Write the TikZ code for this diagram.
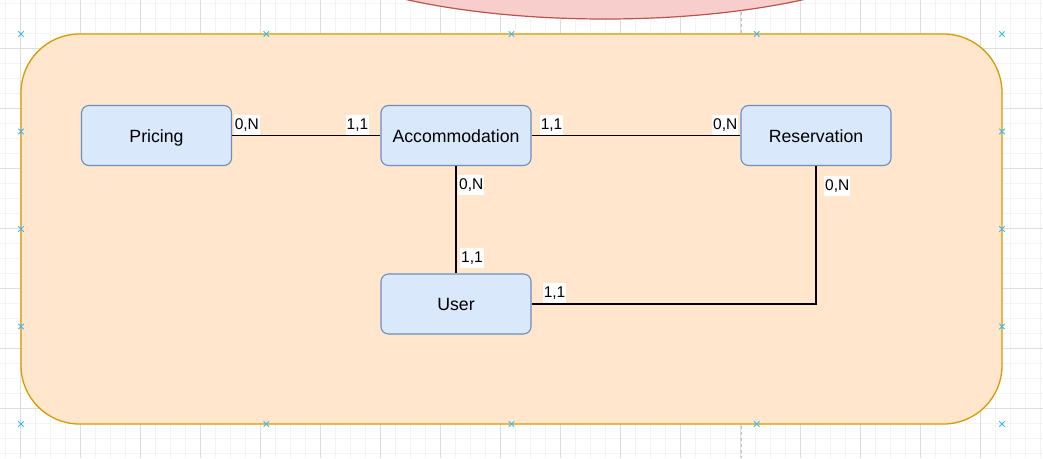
\documentclass[tikz,border=0pt]{standalone}
\usepackage{fontspec}
\setmainfont{Liberation Sans}
\usetikzlibrary{calc}
\definecolor{gridminor}{HTML}{F3F3F3}
\definecolor{gridmajor}{HTML}{DEDEDE}
\definecolor{frameFill}{HTML}{FFE6CC}
\definecolor{frameLine}{HTML}{D79B00}
\definecolor{entFill}{HTML}{DAE8FC}
\definecolor{entLine}{HTML}{6C8EBF}
\definecolor{ellFill}{HTML}{F8CECC}
\definecolor{ellLine}{HTML}{B85450}
\definecolor{handle}{HTML}{3DB5F0}
\definecolor{guide}{HTML}{BDBDBD}
\begin{document}
\begin{tikzpicture}[x=1pt,y=-1pt,
  entity/.style={draw=entLine, fill=entFill, line width=1.1pt, rounded corners=7.5pt,
    minimum width=150pt, minimum height=60pt, inner sep=0pt,
    font=\fontsize{17.7}{20}\selectfont, text height=13pt, text depth=0pt},
  card/.style={fill=white, inner xsep=1pt, inner ysep=0.8pt, text height=13.5pt,
    text depth=4.8pt, font=\fontsize{15.5}{18}\selectfont},
  link/.style={draw=black, line width=1.4pt},
  handlemark/.style={draw=handle, line width=1pt},
  minorline/.style={draw=gridminor, line width=0.8pt},
  majorline/.style={draw=gridmajor, line width=0.8pt}]
\useasboundingbox (0,0) rectangle (1043,458);
\fill[white] (0,0) rectangle (1043,458);
% grid
\foreach \gx in {5,20,...,1040} \draw[minorline] (\gx,0) -- (\gx,458);
\foreach \gy in {3,18,...,453} \draw[minorline] (0,\gy+0.3) -- (1043,\gy+0.3);
\foreach \gx in {20,80,...,1000} \draw[majorline] (\gx,0) -- (\gx,458);
\foreach \gy in {48,108,...,408} \draw[majorline] (0,\gy+0.3) -- (1043,\gy+0.3);
% guide
\draw[guide, dashed, line width=1pt] (741,0) -- (741,458);
% ellipse
\draw[fill=ellFill, draw=ellLine, line width=1.2pt] (605,-71) ellipse [x radius=320, y radius=90];
% frame
\node[draw=frameLine, fill=frameFill, line width=1.3pt, rounded corners=58.5pt,
  minimum width=981pt, minimum height=390pt, inner sep=0pt] (frame) at (511.5,229) {};
% handles
\foreach \hx/\hy in {21/34,266.25/34,511.5/34,756.75/34,1002/34,
  21/131.5,21/229,21/326.5,21/424,1002/131.5,1002/229,1002/326.5,1002/424,
  266.25/424,511.5/424,756.75/424}
  \draw[handlemark] (\hx-2.7,\hy-2.7) -- (\hx+2.7,\hy+2.7) (\hx-2.7,\hy+2.7) -- (\hx+2.7,\hy-2.7);
% entities
\node[entity] (pricing) at (156.5,135.5) {Pricing};
\node[entity] (acc) at (456,135.5) {Accommodation};
\node[entity] (res) at (816,135.5) {Reservation};
\node[entity] (user) at (456,304) {User};
% links
\draw[link] (pricing.east) -- (acc.west);
\draw[link] (acc.east) -- (res.west);
\draw[link] (acc.south) -- (user.north);
\draw[link] (user.east) -| (res.south);
% cardinalities
\node[card, anchor=south west] (c1) at ($(pricing.east)+(1.5,0)$) {0,N};
\node[card, anchor=south east] (c2) at ($(acc.west)+(-11,0)$) {1,1};
\node[card, anchor=south west] (c3) at ($(acc.east)+(8,0)$) {1,1};
\node[card, anchor=south east] (c4) at ($(res.west)+(-2,0)$) {0,N};
\node[card, anchor=north west] (c5) at ($(acc.south)+(2,9)$) {0,N};
\node[card, anchor=south west] (c6) at ($(user.north)+(4,-5)$) {1,1};
\node[card, anchor=north west] (c7) at ($(res.south)+(8,10)$) {0,N};
\node[card, anchor=south west] (c8) at ($(user.east)+(11,-0.5)$) {1,1};
\end{tikzpicture}
\end{document}
